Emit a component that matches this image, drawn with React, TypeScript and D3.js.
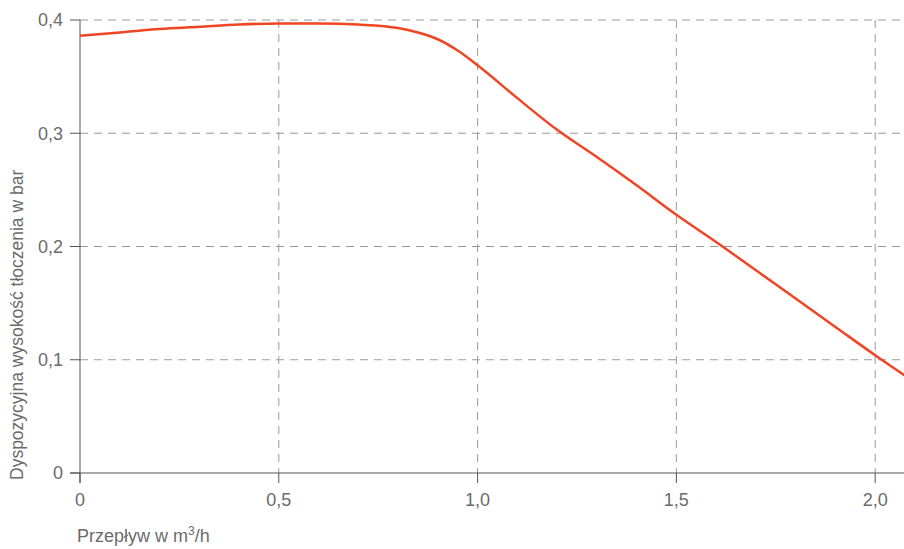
import React from "react";
import * as d3 from "d3";

const flow = [0, 0.1, 0.2, 0.3, 0.4, 0.5, 0.6, 0.7, 0.8, 0.85, 0.9, 0.95, 1.0, 1.1, 1.2, 1.3, 1.4, 1.5, 1.6, 1.7, 1.8, 1.9, 2.0, 2.075];
const head = [0.386, 0.389, 0.392, 0.394, 0.396, 0.397, 0.397, 0.396, 0.393, 0.389, 0.383, 0.373, 0.36, 0.331, 0.303, 0.279, 0.254, 0.228, 0.204, 0.179, 0.154, 0.129, 0.104, 0.086];
const xTicks = [0, 0.5, 1.0, 1.5, 2.0];
const yTicks = [0, 0.1, 0.2, 0.3, 0.4];
const xTitle = "Przepływ w m";
const yTitle = "Dyspozycyjna wysokość tłoczenia w bar";

const W = 904, H = 549;
const M = { left: 80, top: 20, right: 0, bottom: 76 };

export default function App() {
  const x = d3.scaleLinear().domain([0, 2.075]).range([M.left, 905]);
  const y = d3.scaleLinear().domain([0, 0.4]).range([473, 20]);
  const fmt = (v: number) => (v === 0 ? "0" : d3.format(".1f")(v).replace(".", ","));
  const line = d3
    .line<number>()
    .x((_, i) => x(flow[i]))
    .y((d) => y(d))
    .curve(d3.curveMonotoneX);
  const font = "'Liberation Sans', Arial, sans-serif";
  const textCol = "#6b6b6b";
  return (
    <div style={{ position: "absolute", left: 0, top: 0 }}>
      <svg width={W} height={H} style={{ display: "block", fontFamily: font }}>
        <rect width={W} height={H} fill="#fff" />
        {yTicks.filter((t) => t > 0).map((t) => (
          <line key={"gy" + t} x1={M.left} x2={W} y1={y(t)} y2={y(t)} stroke="#9a9a9a" strokeWidth={1} strokeDasharray="8,6" />
        ))}
        {xTicks.filter((t) => t > 0).map((t) => (
          <line key={"gx" + t} x1={x(t)} x2={x(t)} y1={y(0.4)} y2={y(0)} stroke="#9a9a9a" strokeWidth={1} strokeDasharray="8,6" />
        ))}
        <line x1={M.left} x2={M.left} y1={y(0.4)} y2={y(0) + 10} stroke="#555" strokeWidth={1} />
        <line x1={M.left - 10} x2={W} y1={y(0)} y2={y(0)} stroke="#555" strokeWidth={1} />
        {yTicks.map((t) => (
          <g key={"ty" + t}>
            <line x1={M.left - 10} x2={M.left} y1={y(t)} y2={y(t)} stroke="#555" strokeWidth={1} />
            <text x={63} y={y(t)} dy="0.35em" textAnchor="end" fontSize={18} fill={textCol}>
              {fmt(t)}
            </text>
          </g>
        ))}
        {xTicks.map((t) => (
          <g key={"tx" + t}>
            <line x1={x(t)} x2={x(t)} y1={y(0)} y2={y(0) + 10} stroke="#555" strokeWidth={1} />
            <text x={x(t)} y={506} textAnchor="middle" fontSize={18} fill={textCol}>
              {fmt(t)}
            </text>
          </g>
        ))}
        <path d={line(head) || ""} fill="none" stroke="#ef4523" strokeWidth={2.5} />
        <text x={77} y={542} fontSize={18} fill={textCol}>
          {xTitle}
          <tspan fontSize={12} dy={-7}>3</tspan>
          <tspan dy={7}>/h</tspan>
        </text>
        <text transform={`translate(23, 480) rotate(-90)`} textAnchor="start" fontSize={17.5} fill={textCol}>
          {yTitle}
        </text>
      </svg>
    </div>
  );
}
